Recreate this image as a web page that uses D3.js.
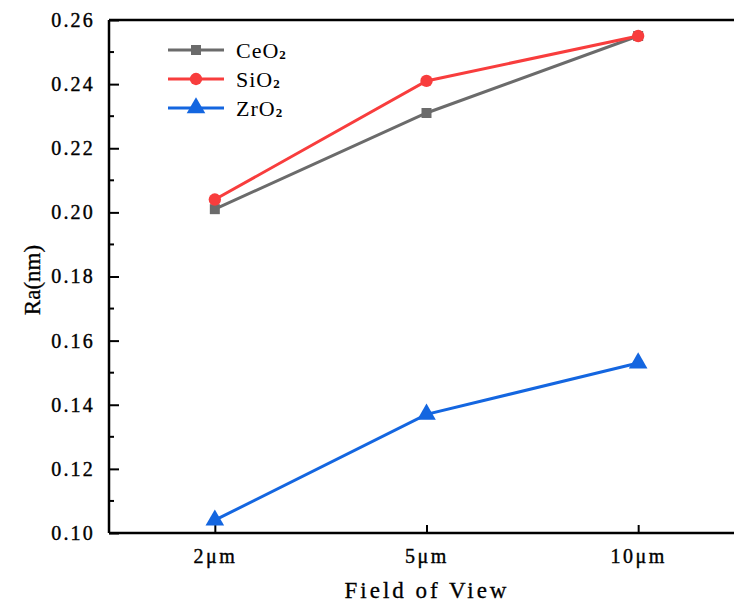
<!DOCTYPE html>
<html><head><meta charset="utf-8">
<script src="https://cdn.jsdelivr.net/npm/d3@7"></script>
<style>body{margin:0;background:#fff}svg{display:block}</style>
</head><body>
<script>
const categories = ["2μm", "5μm", "10μm"];
const yTicks = [0.10, 0.12, 0.14, 0.16, 0.18, 0.20, 0.22, 0.24, 0.26];
const ceo2 = [0.201, 0.231, 0.255];
const sio2 = [0.204, 0.241, 0.255];
const zro2 = [0.104, 0.137, 0.153];
const seriesNames = ["CeO", "SiO", "ZrO"];
const seriesColors = ["#6b6b6b", "#f83d3d", "#1466e0"];
const seriesShapes = [d3.symbolSquare, d3.symbolCircle, d3.symbolTriangle];
const seriesSizes = [100, 120, 150];

const FONT = "'Liberation Serif', 'Times New Roman', 'DejaVu Serif', serif";
const W = 734, H = 606;
const mLeft = 109, mTop = 20, mBottom = 533, mRight = 744;
const svg = d3.select("body").append("svg").attr("width", W).attr("height", H)
  .attr("font-family", FONT);

const x = d3.scalePoint().domain(categories).range([mLeft, mRight]).padding(0.5);
const y = d3.scaleLinear().domain([0.10, 0.26]).range([mBottom, mTop]);

// y minor ticks
const minor = d3.range(0.11, 0.26, 0.02);
svg.append("g").selectAll("line").data(minor).join("line")
  .attr("x1", mLeft).attr("x2", mLeft + 5).attr("y1", d => y(d)).attr("y2", d => y(d))
  .attr("stroke", "#000").attr("stroke-width", 2);

const yAxis = svg.append("g").attr("transform", `translate(${mLeft},0)`)
  .call(d3.axisLeft(y).tickValues(yTicks).tickSizeInner(-10).tickSizeOuter(0).tickPadding(14).tickFormat(d3.format(".2f")));
yAxis.attr("font-family", FONT).attr("font-size", 20);
yAxis.select(".domain").attr("stroke-width", 2.5).attr("d", `M0,${mTop}V${mBottom}`);
yAxis.selectAll(".tick line").attr("stroke-width", 2);
yAxis.selectAll("text").attr("letter-spacing", 2.2).attr("fill", "#000")
  .attr("stroke", "#000").attr("stroke-width", 0.4);

const xAxis = svg.append("g").attr("transform", `translate(0,${mBottom})`)
  .call(d3.axisBottom(x).tickSizeInner(-8).tickSizeOuter(0).tickPadding(16));
xAxis.attr("font-family", FONT).attr("font-size", 20);
xAxis.select(".domain").attr("stroke-width", 2.5).attr("d", `M${mLeft},0H${W + 5}`);
xAxis.selectAll(".tick line").attr("stroke-width", 2);
xAxis.selectAll("text").attr("letter-spacing", 2.5).attr("fill", "#000")
  .attr("stroke", "#000").attr("stroke-width", 0.4);

// top border
svg.append("line").attr("x1", mLeft).attr("x2", W + 5).attr("y1", mTop).attr("y2", mTop)
  .attr("stroke", "#000").attr("stroke-width", 2.5);

// axis titles
svg.append("text").attr("x", 427).attr("y", 598).attr("text-anchor", "middle")
  .attr("font-size", 23).attr("letter-spacing", 3).attr("stroke", "#000").attr("stroke-width", 0.3)
  .text("Field of View");
svg.append("text").attr("transform", "translate(40,280) rotate(-90)").attr("text-anchor", "middle")
  .attr("font-size", 23).attr("stroke", "#000").attr("stroke-width", 0.3).text("Ra(nm)");

const allSeries = [ceo2, sio2, zro2];
const line = d3.line().x((d, i) => x(categories[i])).y(d => y(d));
allSeries.forEach((vals, k) => {
  svg.append("path").datum(vals).attr("d", line).attr("fill", "none")
    .attr("stroke", seriesColors[k]).attr("stroke-width", 3);
  svg.append("g").selectAll("path").data(vals).join("path")
    .attr("transform", (d, i) => `translate(${x(categories[i])},${y(d)})`)
    .attr("d", d3.symbol().type(seriesShapes[k]).size(seriesSizes[k]))
    .attr("fill", seriesColors[k]);
});

// legend
const ly = [50, 79, 108];
seriesNames.forEach((n, k) => {
  const g = svg.append("g");
  g.append("line").attr("x1", 168).attr("x2", 224).attr("y1", ly[k]).attr("y2", ly[k])
    .attr("stroke", seriesColors[k]).attr("stroke-width", 3);
  g.append("path").attr("transform", `translate(196,${ly[k]})`)
    .attr("d", d3.symbol().type(seriesShapes[k]).size(seriesSizes[k])).attr("fill", seriesColors[k]);
  const t = g.append("text").attr("x", 236).attr("y", ly[k] + 8).attr("font-size", 22).attr("letter-spacing", 1);
  t.append("tspan").text(n);
  t.append("tspan").attr("font-size", 13).attr("font-weight", "bold").attr("dy", 1).text("2");
});
</script>
</body></html>
